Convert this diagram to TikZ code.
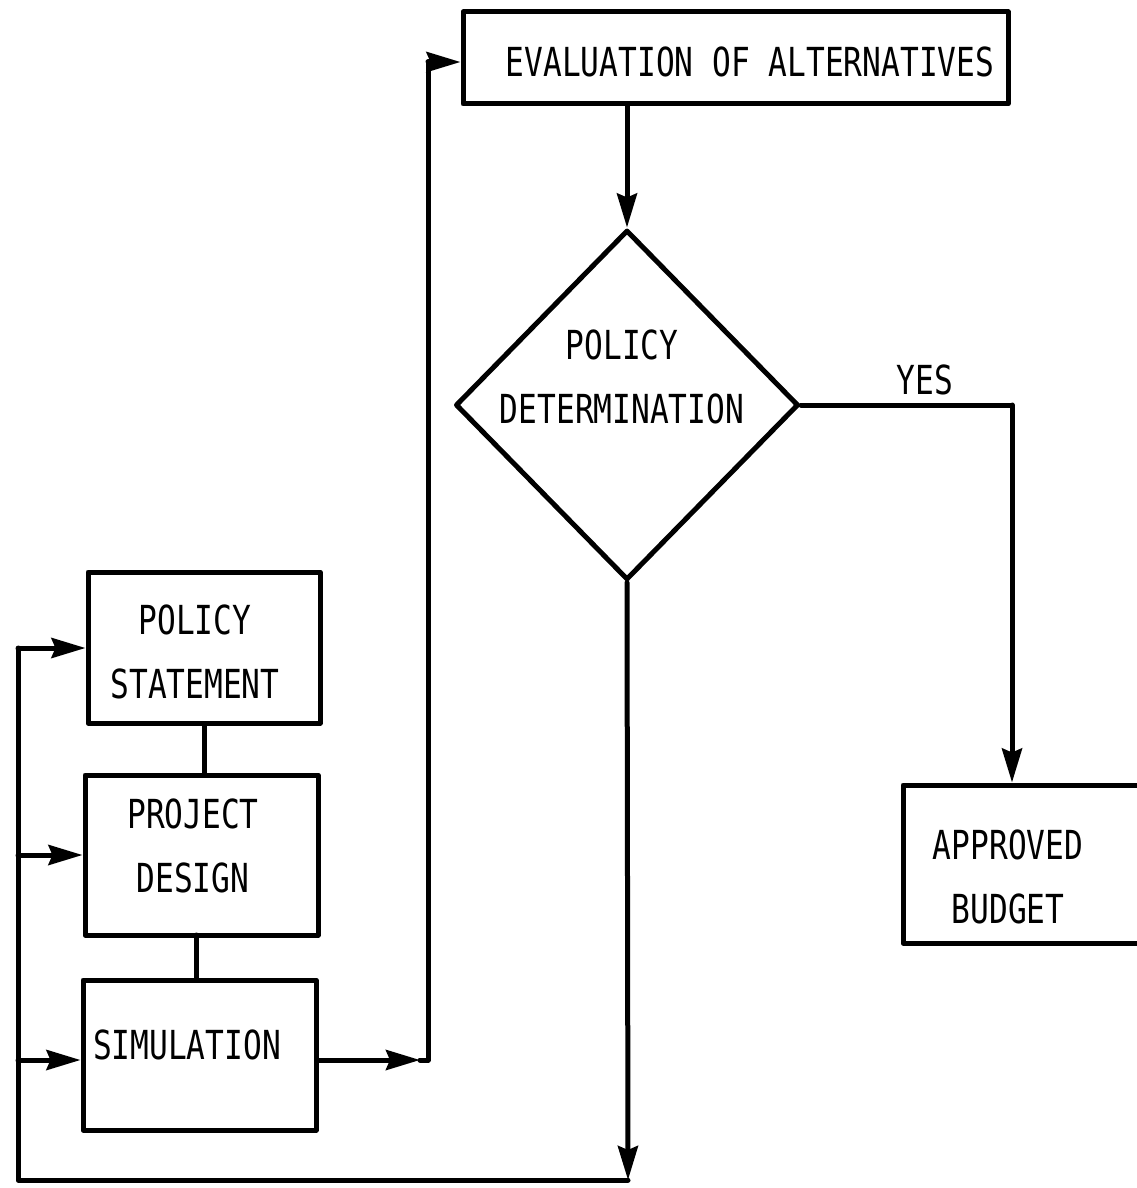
\documentclass[tikz,border=0pt]{standalone}
\usepackage{fontspec}
\newfontfamily\gothic[FakeStretch=0.78]{DejaVu Sans Mono}
\usetikzlibrary{arrows.meta,shapes.geometric}
\begin{document}
\begin{tikzpicture}[x=1pt,y=-1pt,
  line width=5pt, line join=round, line cap=round,
  box/.style={draw, rectangle, inner sep=0pt, line width=5pt},
  lbl/.style={font=\gothic\fontsize{40}{64}\selectfont, align=center, inner sep=0pt},
  flow/.style={-{Stealth[length=34pt,width=20pt,inset=4pt]}}]
\useasboundingbox (0,0) rectangle (1137,1188);
\clip (0,0) rectangle (1137,1188);

% boxes and decision
\node[box, minimum width=545pt, minimum height=92pt] (eval) at (735.5,58) {};
\node[lbl] (evaltxt) at (750,62) {EVALUATION OF ALTERNATIVES};

\node[draw, diamond, inner sep=0pt, minimum width=343pt, minimum height=350pt, line width=5pt] (dia) at (627,405) {};
\node[lbl] (diatxt) at (622,377) {POLICY\\DETERMINATION};

\node[box, minimum width=232pt, minimum height=151pt] (ps) at (204,647.5) {};
\node[lbl] (pstxt) at (195,652) {POLICY\\STATEMENT};

\node[box, minimum width=233pt, minimum height=160pt] (pd) at (201.5,855) {};
\node[lbl] (pdtxt) at (193,846) {PROJECT\\DESIGN};

\node[box, minimum width=233pt, minimum height=150pt] (sim) at (199.5,1055) {};
\node[lbl] (simtxt) at (187,1045) {SIMULATION};

\node[box, minimum width=257pt, minimum height=158pt] (ab) at (1031.5,864) {};
\node[lbl] (abtxt) at (1008,877) {APPROVED\\BUDGET};

\node[lbl] (yes) at (925,380) {YES};

% corner points of the routed connectors
\coordinate (yc) at (1012,405);
\coordinate (nc) at (628,1180);
\coordinate (lb) at (18,1180);
\coordinate (lt) at (18,648);
\coordinate (lm) at (18,855);
\coordinate (ll) at (18,1060);
\coordinate (rb) at (428,1060);
\coordinate (ra) at (420,1060);
\coordinate (rt) at (428,62);

% main flow
\draw[flow] (dia.north |- eval.south) -- (dia.north);
\draw (dia.east) -- (yc);
\draw[flow] (yc) -- (yc |- ab.north);
\draw[flow] (dia.south) -- (nc);
\draw (nc) -- (lb) -- (lt);
\draw[flow] (lt) -- (lt -| ps.west);
\draw[flow] (lm) -- (lm -| pd.west);
\draw[flow] (ll) -- (ll -| sim.west);
\draw[flow] (ra -| sim.east) -- (ra);
\draw (ra) -- (rb) -- (rt);
\draw[flow] (rt) -- (rt -| eval.west);

% links between the stacked boxes
\draw (ps.south) -- (ps.south |- pd.north);
\draw (196,935) -- (196,980);
\end{tikzpicture}
\end{document}
